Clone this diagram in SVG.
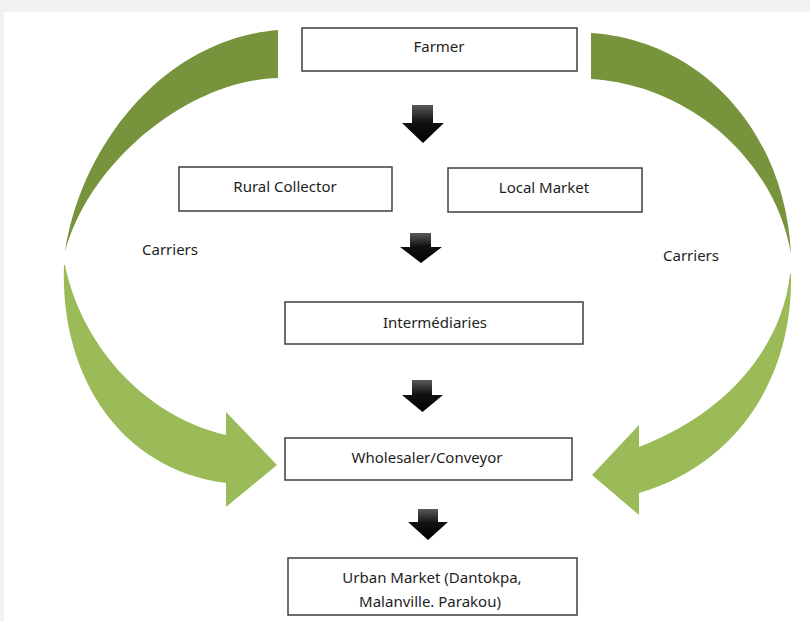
<svg xmlns="http://www.w3.org/2000/svg" width="810" height="621" viewBox="0 0 810 621">
  <defs>
    <linearGradient id="blk" x1="0" y1="0" x2="0" y2="1">
      <stop offset="0" stop-color="#5a5a5a"/>
      <stop offset="0.45" stop-color="#111"/>
      <stop offset="1" stop-color="#000"/>
    </linearGradient>
    <style>
      .box{fill:#fff;stroke:#3f3f3f;stroke-width:1.5}
      .lbl{font-family:"Noto Sans","Open Sans",sans-serif;font-size:15px;fill:#1e1e1e;text-anchor:middle}
      .dark{fill:#77933c}
      .light{fill:#9bbb59}
      .down{fill:url(#blk)}
    </style>
  </defs>
  <rect x="0" y="0" width="810" height="621" fill="#f1f2f4"/>
  <rect x="4" y="12" width="806" height="609" fill="#fff"/>

  <g id="connectors">
    <!-- left dark arc -->
    <path class="dark" d="M278,30 C160,40 80,150 65,252 C 90,160 190,80 278,78 Z"/>
    <!-- right dark arc -->
    <path class="dark" d="M591,33 C700,40 785,130 791,254 C 775,160 690,85 591,79 Z"/>
    <!-- left light curved arrow -->
    <path class="light" d="M64,265 C60,370 115,468 226,483 L226,507 L277,465 L226,412 L226,435 C140,415 80,340 65,265 Z"/>
    <!-- right light curved arrow -->
    <path class="light" d="M791,274 C793,380 735,465 639,493 L639,515 L592,475 L639,425 L639,447 C735,410 783,340 790,274 Z"/>
    <!-- black down arrows -->
    <path class="down" d="M412,105 H433 V123 H444 L423,143 L402,123 H412 Z"/>
    <path class="down" d="M410,233 H431 V247 H442 L421,263 L400,247 H410 Z"/>
    <path class="down" d="M412,380 H432 V395 H443 L422.5,412 L402,395 H412 Z"/>
    <path class="down" d="M418,509 H438 V522 H448 L428,540 L408,522 H418 Z"/>
  </g>

  <g id="farmer">
    <rect class="box" x="302" y="28" width="275" height="43"/>
    <text class="lbl" x="439" y="52">Farmer</text>
  </g>
  <g id="rural-collector">
    <rect class="box" x="179" y="167" width="213" height="44"/>
    <text class="lbl" x="285" y="192">Rural Collector</text>
  </g>
  <g id="local-market">
    <rect class="box" x="448" y="168" width="194" height="44"/>
    <text class="lbl" x="544" y="193">Local Market</text>
  </g>
  <g id="intermediaries">
    <rect class="box" x="285" y="302" width="298" height="42"/>
    <text class="lbl" x="435" y="328">Intermédiaries</text>
  </g>
  <g id="wholesaler">
    <rect class="box" x="285" y="438" width="287" height="42"/>
    <text class="lbl" x="427" y="463">Wholesaler/Conveyor</text>
  </g>
  <g id="urban-market">
    <rect class="box" x="288" y="558" width="289" height="57"/>
    <text class="lbl" x="432" y="583">Urban Market (Dantokpa,</text>
    <text class="lbl" x="430" y="607">Malanville. Parakou)</text>
  </g>
  <g id="carriers-left">
    <text class="lbl" x="170" y="255">Carriers</text>
  </g>
  <g id="carriers-right">
    <text class="lbl" x="691" y="261">Carriers</text>
  </g>
</svg>
